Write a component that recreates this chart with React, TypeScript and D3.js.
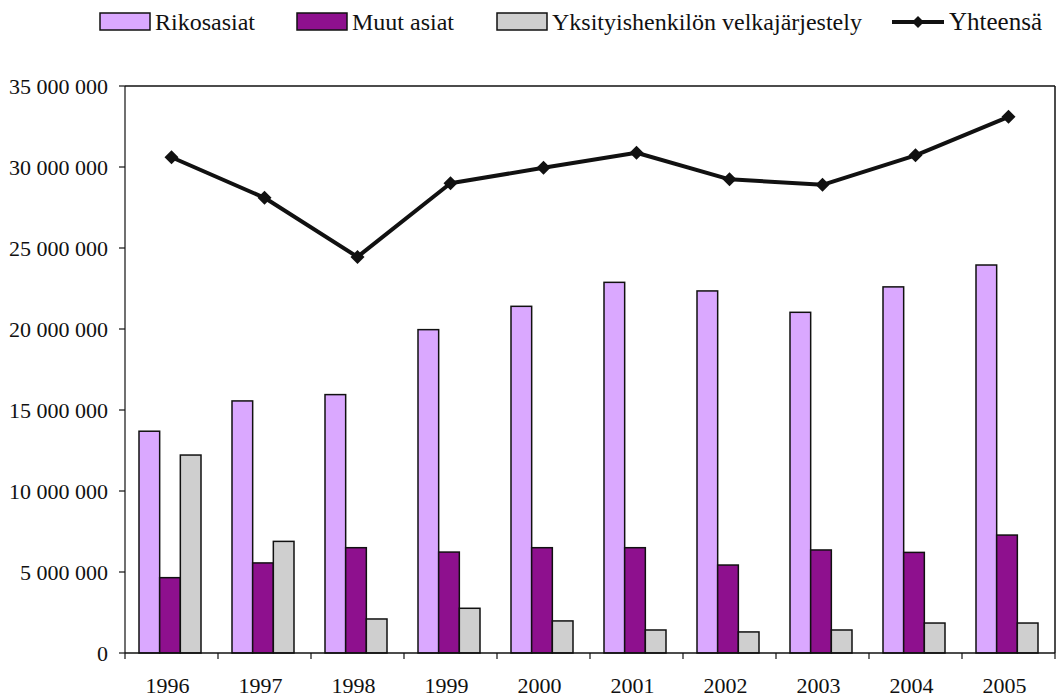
import React from "react";
import * as d3 from "d3";

const years = ["1996", "1997", "1998", "1999", "2000", "2001", "2002", "2003", "2004", "2005"];
const rikosasiat = [13.69, 15.56, 15.95, 19.96, 21.4, 22.88, 22.35, 21.03, 22.6, 23.95];
const muutAsiat = [4.65, 5.56, 6.5, 6.23, 6.5, 6.5, 5.43, 6.36, 6.21, 7.28];
const velkajarjestely = [12.22, 6.89, 2.1, 2.76, 1.98, 1.42, 1.3, 1.42, 1.85, 1.85];
const yhteensa = [30.6, 28.1, 24.45, 29.0, 29.95, 30.88, 29.24, 28.9, 30.72, 33.1];
const yTicks = [0, 5, 10, 15, 20, 25, 30, 35];

const seriesNames = ["Rikosasiat", "Muut asiat", "Yksityishenkilön velkajärjestely"];
const seriesColors = ["#DAA8FF", "#8E108E", "#CFCFCF"];
const lineName = "Yhteensä";

const W = 1056, H = 697;
const M = { left: 125, right: 1055, top: 86, bottom: 653 };
const FF = "Liberation Serif";
const TS: React.CSSProperties = { fontFamily: '"Liberation Serif"' };

const locale = d3.formatLocale({ decimal: ",", thousands: " ", grouping: [3], currency: ["", "€"] });
const fmt = locale.format(",d");

export default function App() {
  const x = d3.scaleBand<string>().domain(years).range([M.left, M.right]).padding(0);
  const bw = x.bandwidth();
  const gap = (bw * 1.5) / 4.5;
  const x1 = d3.scaleBand<number>().domain([0, 1, 2]).range([gap / 2 - 1.5, bw - gap / 2 - 1.5]).padding(0);
  const y = d3.scaleLinear().domain([0, 35e6]).range([M.bottom, M.top]);
  const seriesData = [rikosasiat, muutAsiat, velkajarjestely];

  const line = d3
    .line<number>()
    .x((_, i) => (x(years[i]) as number) + bw / 2)
    .y((v) => y(v * 1e6));

  const diamond = (cx: number, cy: number, r: number) =>
    `M${cx},${cy - r}L${cx + r},${cy}L${cx},${cy + r}L${cx - r},${cy}Z`;

  const legendItems = [
    { x: 100, text: seriesNames[0], color: seriesColors[0] },
    { x: 297, text: seriesNames[1], color: seriesColors[1] },
    { x: 497, text: seriesNames[2], color: seriesColors[2] },
  ];

  return (
    <svg width={W} height={H} fontFamily={FF} style={{ display: "block", position: "absolute", left: 0, top: 0 }}>
      <rect x={0} y={0} width={W} height={H} fill="#fff" />
      {/* legend */}
      {legendItems.map((d, i) => (
        <g key={i}>
          <rect x={d.x} y={13} width={50} height={17} fill={d.color} stroke="#111" strokeWidth={1.5} />
          <text x={d.x + 55} y={30} fontSize={24} fill="#111" fontFamily={FF} style={TS}>
            {d.text}
          </text>
        </g>
      ))}
      <g>
        <line x1={892} x2={944} y1={22} y2={22} stroke="#111" strokeWidth={4} />
        <path d={diamond(918, 22, 6)} fill="#111" />
        <text x={949} y={30} fontSize={25} fill="#111" fontFamily={FF} style={TS}>
          {lineName}
        </text>
      </g>

      {/* plot frame */}
      <line x1={M.left} x2={M.right} y1={M.top} y2={M.top} stroke="#111" strokeWidth={1.5} />
      <line x1={M.right} x2={M.right} y1={M.top} y2={M.bottom} stroke="#111" strokeWidth={1.5} />

      {/* bars */}
      {years.map((yr, i) => (
        <g key={yr} transform={`translate(${x(yr)},0)`}>
          {seriesData.map((s, j) => (
            <rect
              key={j}
              x={x1(j)}
              y={y(s[i] * 1e6)}
              width={x1.bandwidth()}
              height={M.bottom - y(s[i] * 1e6)}
              fill={seriesColors[j]}
              stroke="#111"
              strokeWidth={1.5}
            />
          ))}
        </g>
      ))}

      {/* y axis */}
      <line x1={M.left} x2={M.left} y1={M.top} y2={M.bottom + 6} stroke="#111" strokeWidth={1.2} />
      {yTicks.map((t) => (
        <g key={t}>
          <line x1={M.left - 6} x2={M.left} y1={y(t * 1e6)} y2={y(t * 1e6)} stroke="#111" strokeWidth={1.2} />
          <text x={108} y={y(t * 1e6) + 8} fontSize={22} textAnchor="end" fill="#111" fontFamily={FF} style={TS}>
            {fmt(t * 1e6)}
          </text>
        </g>
      ))}

      {/* x axis */}
      <line x1={M.left} x2={M.right} y1={M.bottom} y2={M.bottom} stroke="#111" strokeWidth={1.5} />
      {years.map((yr) => (
        <line key={"t" + yr} x1={(x(yr) as number) + bw} x2={(x(yr) as number) + bw} y1={M.bottom} y2={M.bottom + 6} stroke="#111" strokeWidth={1.2} />
      ))}
      {years.map((yr) => (
        <text key={"l" + yr} x={(x(yr) as number) + bw / 2 - 4} y={693} fontSize={22} textAnchor="middle" fill="#111" fontFamily={FF} style={TS}>
          {yr}
        </text>
      ))}

      {/* total line */}
      <path d={line(yhteensa) || ""} fill="none" stroke="#111" strokeWidth={4} strokeLinejoin="round" />
      {yhteensa.map((v, i) => (
        <path key={i} d={diamond((x(years[i]) as number) + bw / 2, y(v * 1e6), 7)} fill="#111" />
      ))}
    </svg>
  );
}
